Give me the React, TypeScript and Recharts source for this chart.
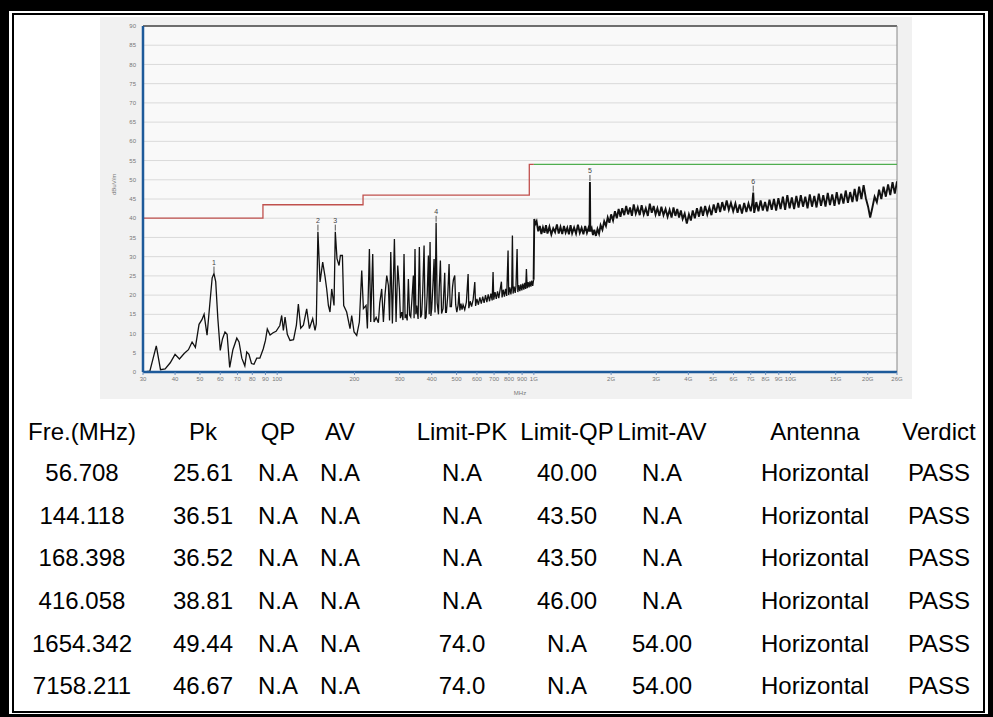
import React from 'react';
import { ComposedChart, Line, Scatter, XAxis, YAxis, CartesianGrid, ReferenceLine } from 'recharts';

// radiated emission sweep, MHz vs dBuV/m
const traceLow = [
  [30.4, 0], [31.9, 0.2], [33.8, 6.8], [35.1, 0.6], [36.6, 0.8], [38.3, 2.4], [40.0, 4.6], [41.6, 3.4],
  [43.4, 4.8], [45.1, 5.8], [46.6, 7.8], [48.0, 6.4], [49.6, 12.4], [50.9, 13.6], [51.9, 15.0], [53.3, 9.6],
  [54.6, 17.5], [55.8, 24.5], [56.7, 25.6], [57.6, 23.5], [58.7, 14.0], [60.0, 5.6], [61.2, 8.6], [62.6, 10.4],
  [63.8, 9.8], [65.3, 1.2], [67.2, 5.8], [69.6, 8.8], [71.0, 7.8], [72.8, 3.6], [74.8, 1.6], [76.1, 5.2],
  [77.6, 4.6], [79.4, 2.2], [81.2, 2.0], [83.2, 3.6], [85.6, 3.6], [88.2, 6.0], [90.0, 8.2], [91.5, 11.2],
  [93.8, 9.6], [96.4, 10.2], [99.0, 10.6], [102.4, 12.1], [104.1, 14.7], [105.7, 10.8], [107.3, 14.3], [109.5, 9.8],
  [112.2, 8.2], [115.8, 8.4], [118.8, 12.2], [120.9, 17.7], [123.5, 11.4], [126.5, 12.2], [130.3, 16.4], [133.5, 11.3],
  [137.5, 13.9], [140.4, 10.8], [142.0, 12.5], [144.1, 36.5], [146.9, 23.4], [150.4, 28.6], [153.6, 24.8], [155.9, 21.6],
  [158.3, 17.3], [160.6, 15.6], [163.1, 21.6], [166.5, 17.3], [168.4, 36.5], [171, 29.5], [174.2, 27.7], [176.3, 30.3],
  [179.5, 30.3], [181.6, 17.3], [186.5, 15.6], [192.2, 11.3], [195.1, 14.7], [199.3, 10.4],
];

const traceMid = [
  [204.1, 9.5], [209, 13], [213.5, 26.4], [216.7, 16.5], [221.9, 17.3], [224.6, 11.3], [228.7, 32], [231.4, 13],
  [235.6, 30.7], [238.4, 13], [243, 14.2], [247.9, 12.8], [251, 18], [255.4, 21.6], [259.3, 13], [263, 20],
  [267.2, 25.1], [271.2, 22.5], [274, 13.4], [277, 31.2], [281.1, 12.6], [286.2, 34.6], [290.5, 13], [294.9, 27.7],
  [299.3, 21.6], [302, 14], [305.6, 15.6], [309, 13.5], [312, 30.7], [315, 14], [317.6, 15], [321, 13.4],
  [324.4, 24.2], [328, 14.8], [331.3, 14.3], [335, 19], [339.3, 25.1], [341.5, 14], [344.3, 32], [347, 15],
  [349.5, 17.3], [354, 13.8], [358, 32.5], [362, 14.2], [365.6, 15], [369, 21], [373.5, 32.9], [377, 13.8],
  [380.3, 14.3], [384, 20], [388.3, 30.3], [391, 15], [394.1, 33.8], [397, 14.6], [400, 16.5], [404, 22],
  [408.6, 29.4], [412, 15.5], [416.1, 38.8], [420, 18], [425, 15], [428, 22], [432.4, 29], [437, 15.2],
  [442.8, 16.5], [446, 21], [449.5, 25.8], [453, 15.5], [456.3, 15.5], [462, 20], [467.4, 28.1], [472, 17],
  [477.3, 17], [482, 22], [486, 24], [491.8, 25.1], [496, 17.5], [501, 15.6], [506.7, 17.3], [511, 20.8],
  [515, 16], [520, 17.8], [525, 16.2], [530, 17.5], [538, 16.2], [546, 18.2], [554.5, 25.5], [558, 16.6],
  [565, 18.4], [572, 17], [580, 18.8], [588.7, 23.4], [593, 17.2], [600, 19], [608, 17.5], [616, 19.4],
  [624, 17.8], [632, 19.6], [640, 18], [648, 20], [656, 18.2], [664, 20.2], [672, 18.4], [680, 20.4],
  [688, 18.6], [693.6, 26], [698, 18.8], [706, 20.8], [714, 19], [722, 21], [730, 19.2], [738, 21.2],
  [747.5, 23.5], [752, 19.4], [760, 21.4], [768, 19.6], [776, 21.6], [784, 19.8], [793.5, 31.6], [798, 20],
  [806, 22], [814, 20.2], [820, 22], [825, 35.5], [830, 20.4], [838, 22.2], [846, 20.6], [852, 22.4],
  [860.5, 32], [866, 20.8], [874, 22.6], [882, 21], [890, 22.8], [898, 21.2], [906, 23], [914, 21.4],
  [922, 23.2], [929, 21.6], [935.5, 26.8], [942, 21.8], [950, 23.4], [958, 22], [966, 23.6], [974, 22.2],
  [982, 23.8], [990, 22.4], [998, 24],
];

const traceHigh = [
  [1004, 39.8], [1012, 38.4], [1025, 39.2], [1040, 36.6], [1055, 38.0], [1070, 35.9], [1085, 37.6], [1100, 36.2],
  [1115, 38.2], [1130, 36.0], [1150, 37.8], [1170, 35.8], [1190, 37.4], [1210, 36.4], [1230, 38.4], [1250, 36.0],
  [1270, 37.7], [1290, 35.9], [1310, 38.0], [1330, 36.3], [1350, 37.5], [1370, 35.8], [1390, 38.2], [1410, 36.1],
  [1435, 37.6], [1460, 36.0], [1485, 38.3], [1510, 36.2], [1535, 37.5], [1560, 35.8], [1585, 38.0], [1610, 36.2],
  [1635, 37.6], [1648, 36.5], [1654, 49.44], [1660, 36.6], [1680, 37.4], [1700, 35.6], [1720, 37.0], [1745, 35.4],
  [1770, 37.2], [1795, 36.0], [1820, 38.2], [1850, 37.0], [1880, 39.2], [1910, 38.0], [1940, 40.2], [1970, 38.8],
  [2000, 41.0], [2035, 39.4], [2070, 41.8], [2105, 40.0], [2140, 42.4], [2175, 40.4], [2210, 42.6], [2250, 40.8],
  [2290, 43.2], [2330, 41.0], [2370, 42.8], [2410, 40.6], [2450, 43.6], [2495, 41.2], [2540, 42.8], [2585, 40.8],
  [2630, 43.4], [2680, 41.0], [2730, 42.6], [2780, 40.6], [2830, 43.8], [2880, 41.4], [2930, 43.2], [2980, 41.0],
  [3030, 42.6], [3085, 40.6], [3140, 43.0], [3200, 40.8], [3260, 42.4], [3320, 40.4], [3380, 42.2], [3440, 40.2],
  [3500, 42.8], [3560, 40.6], [3620, 42.4], [3680, 40.2], [3740, 42.0], [3800, 39.8], [3870, 41.2], [3945, 38.6],
  [4020, 41.0], [4090, 39.4], [4160, 42.0], [4240, 40.0], [4320, 42.6], [4400, 40.4], [4480, 43.0], [4560, 40.6],
  [4650, 43.2], [4740, 41.0], [4830, 42.8], [4920, 40.8], [5020, 43.6], [5120, 41.4], [5220, 44.0], [5320, 41.6],
  [5420, 44.2], [5530, 42.0], [5640, 44.6], [5750, 42.2], [5860, 44.0], [5980, 41.8], [6100, 43.8], [6220, 41.4],
  [6340, 43.6], [6470, 41.2], [6600, 44.0], [6730, 41.6], [6860, 43.8], [7000, 41.8], [7100, 44.0], [7158, 46.67],
  [7220, 41.4], [7360, 44.2], [7500, 41.8], [7650, 44.6], [7800, 42.0], [7960, 44.2], [8120, 41.8], [8280, 44.8],
  [8450, 42.2], [8620, 45.0], [8790, 42.0], [8970, 45.2], [9150, 42.4], [9340, 45.6], [9530, 42.2], [9720, 46.0],
  [9920, 42.6], [10120, 45.4], [10330, 42.4], [10540, 45.8], [10750, 42.8], [10970, 46.0], [11190, 43.0], [11420, 45.6],
  [11650, 42.6], [11890, 46.2], [12130, 43.0], [12380, 45.8], [12630, 42.8], [12890, 46.4], [13150, 43.2], [13420, 46.0],
  [13690, 43.0], [13970, 46.6], [14250, 43.4], [14540, 46.2], [14840, 43.2], [15140, 46.8], [15450, 43.6], [15760, 46.4],
  [16080, 43.8], [16410, 47.2], [16740, 44.0], [17080, 46.8], [17430, 44.2], [17780, 47.6], [18140, 44.4], [18510, 48.2],
  [18890, 45.0], [19270, 48.6], [19660, 45.2], [20060, 43.0], [20440, 40.2], [20850, 42.8], [21270, 45.6], [21700, 44.2],
  [22140, 47.4], [22590, 45.0], [23050, 48.2], [23520, 45.6], [24000, 48.8], [24480, 46.0], [24980, 49.4], [25490, 46.4],
  [26000, 49.6],
];

// limit lines
const limitQpLine = [[30, 40], [88, 40], [88, 43.5], [216, 43.5], [216, 46], [960, 46], [960, 54], [1000, 54]];
const limitAvLine = [[1000, 54], [26000, 54]];

// axis ticks
const xTicks = [30, 40, 50, 60, 70, 80, 90, 100, 200, 300, 400, 500, 600, 700, 800, 900, 1000, 2000, 3000, 4000, 5000, 6000, 7000, 8000, 9000, 10000, 15000, 20000, 26000];
const xTickLabels = ['30', '40', '50', '60', '70', '80', '90', '100', '200', '300', '400', '500', '600', '700', '800', '900', '1G', '2G', '3G', '4G', '5G', '6G', '7G', '8G', '9G', '10G', '15G', '20G', '26G'];
const yTicks = [0, 5, 10, 15, 20, 25, 30, 35, 40, 45, 50, 55, 60, 65, 70, 75, 80, 85, 90];

// result table
const headers = ['Fre.(MHz)', 'Pk', 'QP', 'AV', 'Limit-PK', 'Limit-QP', 'Limit-AV', 'Antenna', 'Verdict'];
const freqCol = ['56.708', '144.118', '168.398', '416.058', '1654.342', '7158.211'];
const pkCol = ['25.61', '36.51', '36.52', '38.81', '49.44', '46.67'];
const qpCol = ['N.A', 'N.A', 'N.A', 'N.A', 'N.A', 'N.A'];
const avCol = ['N.A', 'N.A', 'N.A', 'N.A', 'N.A', 'N.A'];
const limitPkCol = ['N.A', 'N.A', 'N.A', 'N.A', '74.0', '74.0'];
const limitQpCol = ['40.00', '43.50', '43.50', '46.00', 'N.A', 'N.A'];
const limitAvCol = ['N.A', 'N.A', 'N.A', 'N.A', '54.00', '54.00'];
const antennaCol = ['Horizontal', 'Horizontal', 'Horizontal', 'Horizontal', 'Horizontal', 'Horizontal'];
const verdictCol = ['PASS', 'PASS', 'PASS', 'PASS', 'PASS', 'PASS'];

const colCenters = [82, 203, 278, 340, 462, 567, 662, 815, 939];
const rowTops = [417, 458, 501, 543, 586, 629, 671];

const toPts = (arr: number[][]) => arr.map(([f, v]) => ({ f, v }));
const traceBelow1G = toPts([...traceLow, ...traceMid]);
const traceAbove1G = toPts([traceMid[traceMid.length - 1], ...traceHigh]);
const markers = freqCol.map((f, i) => ({ f: parseFloat(f), v: parseFloat(pkCol[i]), n: String(i + 1) }));

const tickStyle = { fontSize: 6, fill: '#777', fontFamily: 'Liberation Sans' };

const MarkerShape = (props: any) => {
  const { cx, cy, payload } = props;
  return (
    <g>
      <line x1={cx} x2={cx} y1={cy - 7} y2={cy - 1} stroke="#555" strokeWidth={1} />
      <text x={cx} y={cy - 9} textAnchor="middle" fontSize={7} fill="#444" fontFamily="Liberation Sans">{payload.n}</text>
    </g>
  );
};

const EmissionChart = () => (
  <ComposedChart width={820} height={390} margin={{ top: 12, right: 20, bottom: 12, left: 0 }}>
    <CartesianGrid vertical={false} stroke="#dadada" fill="#f9f9f9" />
    <XAxis
      dataKey="f"
      type="number"
      scale="log"
      domain={[30, 26000]}
      allowDataOverflow
      ticks={xTicks}
      interval={0}
      tickFormatter={(v: number) => xTickLabels[xTicks.indexOf(v)]}
      tick={tickStyle}
      tickSize={3}
      height={20}
      axisLine={{ stroke: '#1d5a9a', strokeWidth: 2.5 }}
      tickLine={{ stroke: '#6b8fbf' }}
      label={{ value: 'MHz', position: 'insideBottom', offset: -3, style: tickStyle }}
    />
    <YAxis
      type="number"
      domain={[0, 90]}
      ticks={yTicks}
      interval={0}
      width={46}
      tick={tickStyle}
      tickSize={0}
      tickMargin={7}
      axisLine={{ stroke: '#1d5a9a', strokeWidth: 2.5 }}
      label={{ value: 'dBuV/m', angle: -90, position: 'insideLeft', offset: 17, dy: -4, style: tickStyle }}
    />
    <ReferenceLine y={90} stroke="#444" strokeWidth={1.5} />
    <ReferenceLine x={26000} stroke="#888" strokeWidth={1} />
    <Line data={toPts(limitQpLine)} dataKey="v" stroke="#c0504d" strokeWidth={1.3} dot={false} activeDot={false} isAnimationActive={false} />
    <Line data={toPts(limitAvLine)} dataKey="v" stroke="#4fae4f" strokeWidth={1.3} dot={false} activeDot={false} isAnimationActive={false} />
    <Line data={traceBelow1G} dataKey="v" stroke="#111" strokeWidth={1.3} dot={false} activeDot={false} isAnimationActive={false} />
    <Line data={traceAbove1G} dataKey="v" stroke="#111" strokeWidth={1.9} dot={false} activeDot={false} isAnimationActive={false} />
    <Scatter data={markers} dataKey="v" shape={MarkerShape} isAnimationActive={false} />
  </ComposedChart>
);

const ResultTable = () => {
  const cols = [freqCol, pkCol, qpCol, avCol, limitPkCol, limitQpCol, limitAvCol, antennaCol, verdictCol];
  const rows = [headers, ...freqCol.map((_, r) => cols.map((c) => c[r]))];
  return (
    <>
      {rows.map((row, r) =>
        row.map((txt, c) => (
          <div
            key={`${r}-${c}`}
            style={{
              position: 'absolute',
              left: colCenters[c] - 70,
              top: rowTops[r],
              width: 140,
              height: 30,
              lineHeight: '30px',
              textAlign: 'center',
              fontFamily: 'Liberation Sans, Arial, sans-serif',
              fontSize: 24,
              color: '#000',
            }}
          >
            {txt}
          </div>
        ))
      )}
    </>
  );
};

export default function App() {
  return (
    <div style={{ position: 'absolute', left: 0, top: 0, width: 993, height: 717, background: '#000', overflow: 'hidden' }}>
      <div style={{ position: 'absolute', left: 9, top: 11, width: 979, height: 703, background: '#fff' }} />
      <div style={{ position: 'absolute', left: 12, top: 13, width: 973, height: 700, border: '2px solid #000', boxSizing: 'border-box' }} />
      <div style={{ position: 'absolute', left: 100, top: 17, width: 812, height: 382, background: '#f1f1f1' }} />
      <div style={{ position: 'absolute', left: 97, top: 14 }}>
        <EmissionChart />
      </div>
      <ResultTable />
    </div>
  );
}
